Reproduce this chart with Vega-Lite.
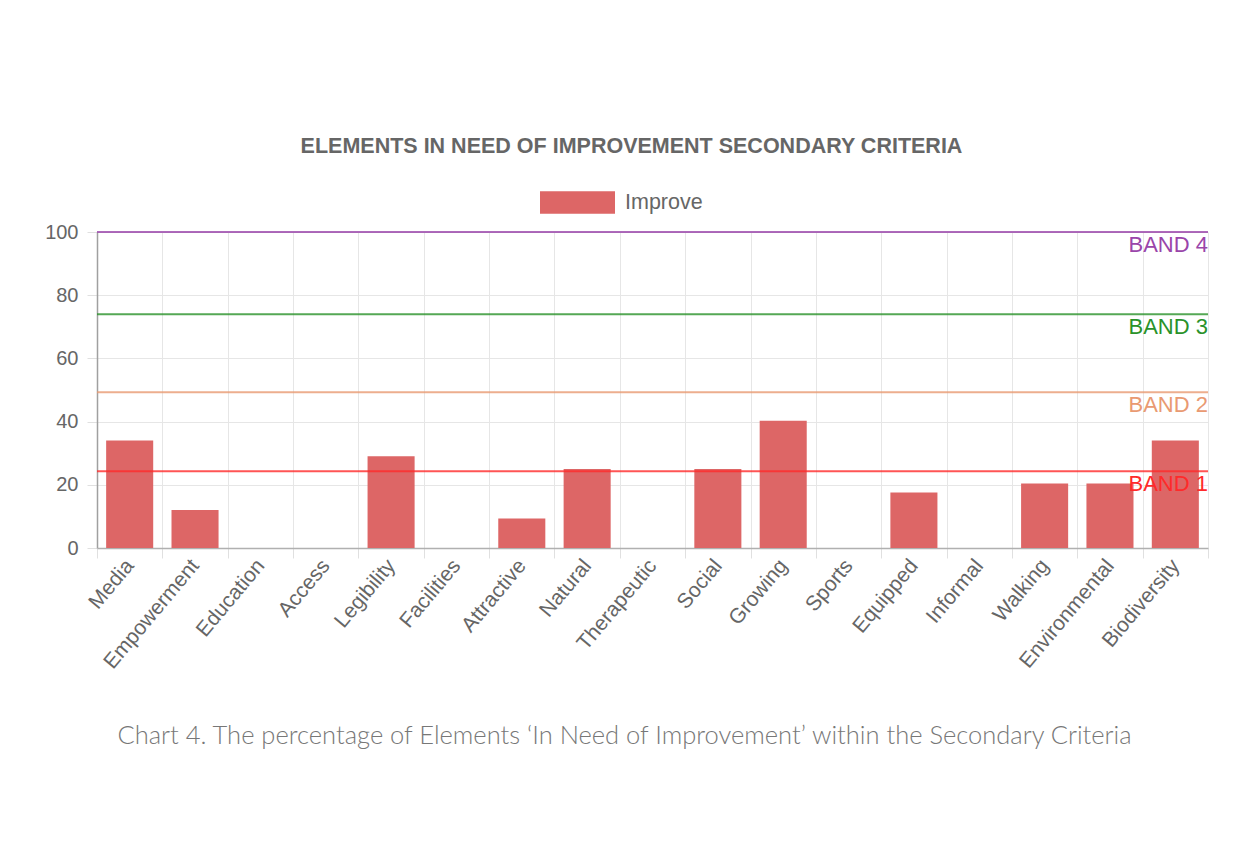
{
  "$schema": "https://vega.github.io/schema/vega-lite/v6.json",
  "width": 1111,
  "height": 316,
  "autosize": {"type": "none"},
  "padding": {"left": 97, "top": 232, "right": 46, "bottom": 294},
  "background": "white",
  "title": {
    "text": "ELEMENTS IN NEED OF IMPROVEMENT SECONDARY CRITERIA",
    "fontSize": 21.5,
    "font": "Liberation Sans",
    "fontWeight": "bold",
    "color": "#666666",
    "offset": 8,
    "dx": -21,
    "anchor": "middle"
  },
  "config": {
    "view": {"stroke": null},
    "font": "Liberation Sans"
  },
  "datasets": {
    "bars": [
      {"criterion": "Media", "value": 34, "series": "Improve"},
      {"criterion": "Empowerment", "value": 12, "series": "Improve"},
      {"criterion": "Education", "value": 0, "series": "Improve"},
      {"criterion": "Access", "value": 0, "series": "Improve"},
      {"criterion": "Legibility", "value": 29, "series": "Improve"},
      {"criterion": "Facilities", "value": 0, "series": "Improve"},
      {"criterion": "Attractive", "value": 9.3, "series": "Improve"},
      {"criterion": "Natural", "value": 25, "series": "Improve"},
      {"criterion": "Therapeutic", "value": 0, "series": "Improve"},
      {"criterion": "Social", "value": 25, "series": "Improve"},
      {"criterion": "Growing", "value": 40.3, "series": "Improve"},
      {"criterion": "Sports", "value": 0, "series": "Improve"},
      {"criterion": "Equipped", "value": 17.6, "series": "Improve"},
      {"criterion": "Informal", "value": 0, "series": "Improve"},
      {"criterion": "Walking", "value": 20.4, "series": "Improve"},
      {"criterion": "Environmental", "value": 20.4, "series": "Improve"},
      {"criterion": "Biodiversity", "value": 34, "series": "Improve"}
    ],
    "bands": [
      {"band": "BAND 1", "value": 24.3},
      {"band": "BAND 2", "value": 49.3},
      {"band": "BAND 3", "value": 74},
      {"band": "BAND 4", "value": 100}
    ]
  },
  "layer": [
    {
      "data": {"name": "bars"},
      "mark": {"type": "bar", "fill": "#dd6666", "width": {"band": 0.72}},
      "encoding": {
        "x": {
          "field": "criterion",
          "type": "nominal",
          "sort": null,
          "scale": {"paddingInner": 0, "paddingOuter": 0},
          "axis": {
            "title": "Chart 4. The percentage of Elements \u2018In Need of Improvement\u2019 within the Secondary Criteria",
            "titleFont": "Lato",
            "titleFontWeight": 300,
            "titleFontSize": 25.5,
            "titleColor": "#777777",
            "titleAnchor": "middle",
            "titleX": 527,
            "titleY": 175,
            "titleBaseline": "top",
            "tickBand": "extent",
            "grid": true,
            "gridColor": "#e6e6e6",
            "ticks": true,
            "tickSize": 10,
            "tickColor": "#e0e0e0",
            "domainColor": "#b0b0b0",
            "domainWidth": 1.5,
            "labelAngle": -50,
            "labelAlign": "right",
            "labelBaseline": "middle",
            "labelFontSize": 21,
            "labelColor": "#666666",
            "labelPadding": 4
          }
        },
        "y": {
          "field": "value",
          "type": "quantitative",
          "scale": {"domain": [0, 100]},
          "axis": {
            "title": null,
            "values": [0, 20, 40, 60, 80, 100],
            "grid": true,
            "gridColor": "#e6e6e6",
            "tickSize": 10,
            "tickColor": "#e0e0e0",
            "domainColor": "#a0a0a0",
            "domainWidth": 1.5,
            "labelFontSize": 20,
            "labelColor": "#666666",
            "labelPadding": 9
          }
        },
        "color": {
          "field": "series",
          "type": "nominal",
          "scale": {"domain": ["Improve"], "range": ["#dd6666"]},
          "legend": {
            "title": null,
            "orient": "none",
            "legendX": 443,
            "legendY": -67,
            "symbolType": "M-1,-0.3h2v0.6h-2Z",
            "symbolSize": 5625,
            "symbolStrokeWidth": 0,
            "labelFontSize": 21.5,
            "labelColor": "#666666",
            "labelOffset": 10
          }
        }
      }
    },
    {
      "data": {"name": "bands"},
      "mark": {"type": "rule", "strokeWidth": 2, "opacity": 0.8},
      "encoding": {
        "y": {"field": "value", "type": "quantitative"},
        "color": {
          "field": "band",
          "type": "nominal",
          "scale": {"domain": ["BAND 1", "BAND 2", "BAND 3", "BAND 4"], "range": ["#ff2a2a", "#e99a72", "#2a922a", "#9a45aa"]},
          "legend": null
        }
      }
    },
    {
      "data": {"name": "bands"},
      "mark": {"type": "text", "align": "right", "baseline": "top", "dy": 3, "fontSize": 22, "font": "Liberation Sans"},
      "encoding": {
        "x": {"value": "width"},
        "y": {"field": "value", "type": "quantitative"},
        "text": {"field": "band"},
        "color": {
          "field": "band",
          "type": "nominal",
          "scale": {"domain": ["BAND 1", "BAND 2", "BAND 3", "BAND 4"], "range": ["#ff2a2a", "#e99a72", "#2a922a", "#9a45aa"]},
          "legend": null
        }
      }
    }
  ],
  "resolve": {"scale": {"color": "independent"}}
}
